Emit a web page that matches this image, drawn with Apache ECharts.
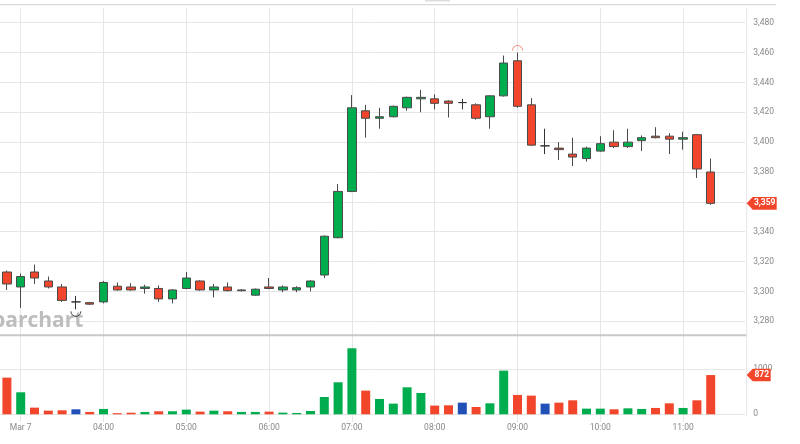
<!DOCTYPE html>
<html><head><meta charset="utf-8">
<script src="https://cdn.jsdelivr.net/npm/echarts@6/dist/echarts.min.js"></script>
<style>html,body{margin:0;padding:0;background:#fff}#c{width:800px;height:444px}</style>
</head><body><div id="c"></div>
<script>
// ---- data ----
const dateLabel = 'Mar 7';
const times = ['02:50','03:00','03:10','03:20','03:30','03:40','03:50','04:00','04:10','04:20','04:30','04:40','04:50',
  '05:00','05:10','05:20','05:30','05:40','05:50','06:00','06:10','06:20','06:30','06:40','06:50',
  '07:00','07:10','07:20','07:30','07:40','07:50','08:00','08:10','08:20','08:30','08:40','08:50',
  '09:00','09:10','09:20','09:30','09:40','09:50','10:00','10:10','10:20','10:30','10:40','10:50',
  '11:00','11:10','11:20'];
const padTimes = ['11:30','11:40'];
const opens  = [3313,3303,3313,3307,3303,3293,3292.5,3293,3303.5,3303,3302,3302,3295,
  3302,3307,3301,3303,3300.5,3297.5,3303,3301,3301,3303,3311,3336,
  3367,3421,3416,3417,3423,3429,3429,3427.5,3426.5,3425,3417,3431,
  3454.5,3425,3397.5,3396,3392,3389,3394,3400,3397,3401,3404,3404,
  3402,3405,3380];
const closes = [3305,3310,3309,3303,3294,3293,3291.5,3306,3301,3301,3303,3295,3301,
  3309,3301,3303,3300.5,3301,3301.5,3302,3303,3302.5,3307,3337,3367,
  3423,3416,3417,3424,3430,3430,3426,3426,3426.5,3416,3431,3453,
  3424,3398,3397.5,3395,3390,3396,3399,3397,3400,3403,3403,3402,
  3403,3382,3359];
const lows   = [3301,3289,3305,3302,3293,3288,3291,3292,3300.5,3300.5,3298.5,3293,3292,
  3301.5,3300.5,3296,3300,3300,3297,3301.5,3299.5,3299.5,3300,3309,3335.5,
  3366.5,3403,3409,3416.5,3421,3420,3422,3416.5,3422,3415,3409,3430.5,
  3423,3397.5,3392,3388,3384,3387,3393.5,3396,3396,3394,3402.5,3392,
  3395,3376,3358];
const highs  = [3314,3312,3318,3310,3305,3297,3293,3307,3306,3305.5,3304.5,3304,3301.5,
  3313,3307.5,3305,3306,3301.5,3302,3309,3304,3303.5,3307.5,3337.5,3372,
  3431.5,3425,3423,3424.5,3430.5,3435,3432,3428,3429,3426,3431.5,3458,
  3460,3429.5,3409,3400,3403,3397,3404,3408,3409,3404.5,3410,3406,
  3407,3405.5,3389];
const volumes = [815,489,148,81,89,111,52,119,25,35,52,67,67,
  104,59,81,67,52,52,59,37,30,74,385,711,
  1467,526,341,237,600,474,193,200,259,163,244,970,
  430,415,237,259,311,126,126,111,133,119,141,244,
  141,311,872];
const priceMin = 3280, priceMax = 3480, priceStep = 20;
const volMin = 0, volMax = 1000, volStep = 1000;

// ---- chart ----
const GREEN = '#00ad4e', RED = '#f1462b', BLUE = '#2150b8';
const FONT = 'Roboto';
const cats = times.concat(padTimes);
const BW = 13.8;
const plotW = BW * cats.length;
const gridRight = 800 - plotW;
const firstHour = times.find(t => t.endsWith(':00'));

const chart = echarts.init(document.getElementById('c'), null, {renderer: 'canvas'});
const candleData = times.map((t, i) => [opens[i], closes[i], lows[i], highs[i]]);
const volColor = i => closes[i] > opens[i] ? GREEN : (closes[i] < opens[i] ? RED : BLUE);

const labelStyle = {color: '#888', fontSize: 8.5, fontFamily: FONT};

chart.setOption({
  animation: false,
  textStyle: {fontFamily: FONT},
  grid: [
    {left: 0, right: gridRight, top: 22.7, height: 298.6},
    {left: 0, right: gridRight, top: 369.3, height: 45},
    {left: BW / 2, right: 800 - (plotW - BW / 2), top: 8, bottom: 22}
  ],
  xAxis: [
    {type: 'category', gridIndex: 0, data: cats, show: false, boundaryGap: true},
    {type: 'category', gridIndex: 1, data: cats, show: false, boundaryGap: true},
    {type: 'category', gridIndex: 2, data: cats, boundaryGap: false,
      axisLine: {show: false}, axisTick: {show: false},
      splitLine: {show: true, interval: (i, v) => v.endsWith(':00'), lineStyle: {color: '#e6e6e6', width: 1}},
      axisLabel: Object.assign({interval: (i, v) => v.endsWith(':00'), margin: 1,
        formatter: v => v === firstHour ? dateLabel : v, hideOverlap: false}, labelStyle)}
  ],
  yAxis: [
    {type: 'value', gridIndex: 0, position: 'right', min: priceMin, max: priceMax, interval: priceStep,
      axisLine: {show: false}, axisTick: {show: false},
      splitLine: {lineStyle: {color: '#e6e6e6'}},
      axisLabel: Object.assign({margin: 8, align: 'left', formatter: v => v.toLocaleString('en-US')}, labelStyle)},
    {type: 'value', gridIndex: 1, position: 'right', min: volMin, max: volMax, interval: volStep,
      axisLine: {show: false}, axisTick: {show: false},
      splitLine: {lineStyle: {color: '#e6e6e6'}},
      axisLabel: Object.assign({margin: 8, align: 'left', formatter: v => String(v)}, labelStyle)},
    {type: 'value', gridIndex: 2, show: false}
  ],
  series: [
    {type: 'candlestick', xAxisIndex: 0, yAxisIndex: 0, data: candleData, barWidth: 9,
      itemStyle: {color: GREEN, color0: RED, borderColor: '#4a4a4a', borderColor0: '#4a4a4a',
        borderColorDoji: '#333', borderWidth: 1}},
    {type: 'bar', xAxisIndex: 1, yAxisIndex: 1, data: volumes, barWidth: 9, clip: false,
      itemStyle: {color: p => volColor(p.dataIndex)}}
  ]
});

// ---- annotations positioned through the chart's scales ----
const last = times.length - 1;
const pLast = chart.convertToPixel({gridIndex: 0}, [last, closes[last]]);
const vLast = chart.convertToPixel({gridIndex: 1}, [last, volumes[last]]);
let iHi = 0, iLo = 0;
highs.forEach((h, i) => { if (h > highs[iHi]) iHi = i; });
lows.forEach((l, i) => { if (l < lows[iLo]) iLo = i; });
const pHi = chart.convertToPixel({gridIndex: 0}, [iHi, highs[iHi]]);
const pLo = chart.convertToPixel({gridIndex: 0}, [iLo, lows[iLo]]);
const edge = plotW + 1.5;

function tag(y, text, w) {
  const h = 12.6;
  return [
    {type: 'polygon', z: 100, shape: {points: [[edge, y], [edge + 6, y - h / 2], [edge + 6 + w, y - h / 2], [edge + 6 + w, y + h / 2], [edge + 6, y + h / 2]]},
      style: {fill: RED}},
    {type: 'text', z: 101, x: edge + 6 + w / 2, y: y,
      style: {text: text, fill: '#fff', font: 'bold 8.5px ' + FONT, align: 'center', verticalAlign: 'middle', textAlign: 'center', textVerticalAlign: 'middle'}}
  ];
}

chart.setOption({
  graphic: [
    {type: 'line', shape: {x1: 0, y1: 4.7, x2: 776, y2: 4.7}, style: {stroke: '#cfcfcf', lineWidth: 1}},
    {type: 'rect', shape: {x: 425, y: 0, width: 25, height: 1.5}, style: {fill: '#dddddd'}},
    {type: 'line', shape: {x1: 0, y1: 335.3, x2: 747, y2: 335.3}, style: {stroke: '#c8c8c8', lineWidth: 2}},
    {type: 'line', shape: {x1: 746.7, y1: 8, x2: 746.7, y2: 416}, style: {stroke: '#e6e6e6', lineWidth: 1}},
    {type: 'text', x: -8, y: 321, z: 50,
      style: {text: 'barchart', fill: '#bdbdbd', font: '700 21px "Open Sans"', align: 'left', verticalAlign: 'middle', textAlign: 'left', textVerticalAlign: 'middle'}},
    {type: 'arc', z: 60, shape: {cx: pHi[0], cy: pHi[1] - 2, r: 5, startAngle: Math.PI, endAngle: 2 * Math.PI},
      style: {stroke: '#f08a7a', fill: 'none', lineWidth: 1}},
    {type: 'arc', z: 60, shape: {cx: pLo[0], cy: pLo[1] + 2, r: 5, startAngle: 0, endAngle: Math.PI},
      style: {stroke: '#444', fill: 'none', lineWidth: 1}},
    ...tag(pLast[1], closes[last].toLocaleString('en-US'), 24),
    ...tag(vLast[1], String(volumes[last]), 18)
  ]
});
</script></body></html>
